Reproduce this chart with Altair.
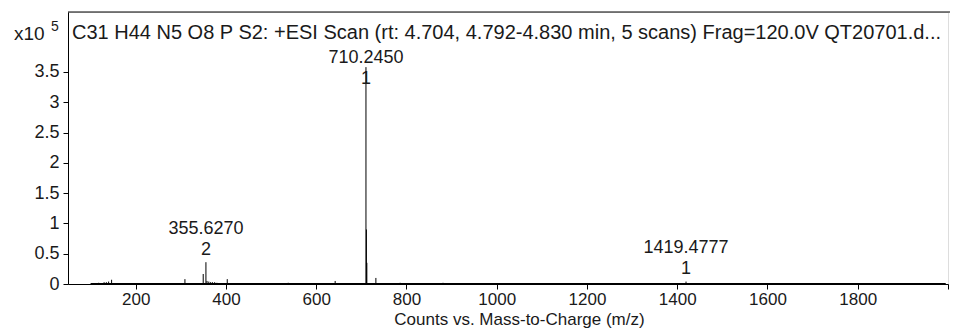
import altair as alt
import pandas as pd

# ---- data (intensity in units of 1e5 counts) ----
peak_mz = [118.0, 130.0, 135.0, 140.0, 146.6, 309.1, 349.6, 355.627, 358.0, 362.0,
           366.0, 370.0, 375.0, 380.0, 402.9, 538.0, 569.0, 642.0, 650.0, 660.0,
           668.0, 690.0, 700.0, 710.245, 711.25, 712.24, 732.23, 786.0, 881.0,
           1419.4777, 1425.0, 1432.0, 1440.0, 1447.0]
peak_int = [0.02, 0.03, 0.03, 0.04, 0.07, 0.08, 0.165, 0.36, 0.05, 0.04,
            0.03, 0.03, 0.03, 0.02, 0.08, 0.02, 0.015, 0.05, 0.015, 0.015,
            0.015, 0.015, 0.015, 3.58, 0.9, 0.35, 0.1, 0.02, 0.02,
            0.04, 0.015, 0.015, 0.015, 0.015]

scan_start = [100.0]
scan_end = [1995.0]

label_mz = [355.6270, 710.2450, 1419.4777]
label_text = ["355.6270", "710.2450", "1419.4777"]
label_charge = ["2", "1", "1"]
label_level = [0.91, 3.73, 0.594]

x_ticks = [200, 400, 600, 800, 1000, 1200, 1400, 1600, 1800, 2000]
y_ticks = [0, 0.5, 1, 1.5, 2, 2.5, 3, 3.5]

title_text = ("C31 H44 N5 O8 P S2: +ESI Scan (rt: 4.704, 4.792-4.830 min, 5 scans) "
              "Frag=120.0V QT20701.d...")
x_title = "Counts vs. Mass-to-Charge (m/z)"

W, H = 880, 272
FONT = "Liberation Sans"
TXT = "#1a1a1a"
FS = 18

peaks = pd.DataFrame({"mz": peak_mz, "intensity": peak_int})
scan = pd.DataFrame({"start": scan_start, "end": scan_end, "zero": [0.0]})
labels = pd.DataFrame({"mz": label_mz, "text": label_text,
                       "charge": label_charge, "level": label_level})

xscale = alt.Scale(domain=[50, 2000], nice=False, zero=False)
yscale = alt.Scale(domain=[0, 4.49], nice=False)

xaxis = alt.Axis(values=x_ticks, labelExpr="datum.value == 2000 ? '' : datum.label",
                 format="d", grid=False, domainColor="black", tickColor="black",
                 tickSize=5, labelPadding=2, labelFont=FONT, labelFontSize=17,
                 labelColor=TXT, title=x_title, titleFont=FONT, titleFontSize=17,
                 titleFontWeight="normal", titleColor=TXT, titleBaseline="middle",
                 titleY=35, titleX=451, titleAnchor="middle", labelFlush=False)
yaxis = alt.Axis(values=y_ticks, format=".2~f", grid=False, domainColor="black",
                 tickColor="black", tickSize=5, labelPadding=4, labelFont=FONT,
                 labelFontSize=FS, labelColor=TXT, title=None, labelOverlap=False,
                 tickCount=8)

sticks = alt.Chart(peaks).mark_rule(color="black", strokeWidth=1).encode(
    x=alt.X("mz:Q", scale=xscale, axis=xaxis),
    y=alt.Y("intensity:Q", scale=yscale, axis=yaxis),
    y2=alt.datum(0),
)

base_rule = alt.Chart(scan).mark_rule(color="black", strokeWidth=2).encode(
    x=alt.X("start:Q", scale=xscale, axis=xaxis),
    x2="end:Q",
    y=alt.Y("zero:Q", scale=yscale, axis=yaxis),
)

mass_lbl = alt.Chart(labels).mark_text(font=FONT, fontSize=FS, color=TXT,
                                       baseline="middle", align="center").encode(
    x=alt.X("mz:Q", scale=xscale, axis=xaxis), y=alt.Y("level:Q", scale=yscale, axis=yaxis),
    text="text:N")
charge_lbl = alt.Chart(labels).mark_text(font=FONT, fontSize=FS, color=TXT,
                                         baseline="middle", align="center", dy=21).encode(
    x=alt.X("mz:Q", scale=xscale, axis=xaxis), y=alt.Y("level:Q", scale=yscale, axis=yaxis),
    text="charge:N")

title_mark = alt.Chart(pd.DataFrame({"t": [title_text]})).mark_text(
    font=FONT, fontSize=20, color=TXT, align="left", baseline="middle").encode(
    x=alt.value(4), y=alt.value(21), text="t:N")

exp_base = alt.Chart(pd.DataFrame({"t": ["x10"]})).mark_text(
    font=FONT, fontSize=19, color=TXT, align="left", baseline="middle").encode(
    x=alt.value(-54), y=alt.value(22), text="t:N")
exp_sup = alt.Chart(pd.DataFrame({"t": ["5"]})).mark_text(
    font=FONT, fontSize=14, color=TXT, align="left", baseline="middle").encode(
    x=alt.value(-17), y=alt.value(15), text="t:N")

top_border = alt.Chart(pd.DataFrame({"a": [0]})).mark_rule(color="black", strokeWidth=1).encode(
    x=alt.value(0), x2=alt.value(W + 12), y=alt.value(0))

chart = alt.layer(sticks, base_rule, mass_lbl, charge_lbl, title_mark, exp_base,
                  exp_sup, top_border).properties(
    width=W, height=H,
    autosize=alt.AutoSizeParams(type="none"),
    padding={"left": 60, "top": 4, "right": 2, "bottom": 45},
).configure_view(stroke=None).configure(background="white")

chart.save("out.html", embed_options={"renderer": "svg", "actions": False})
